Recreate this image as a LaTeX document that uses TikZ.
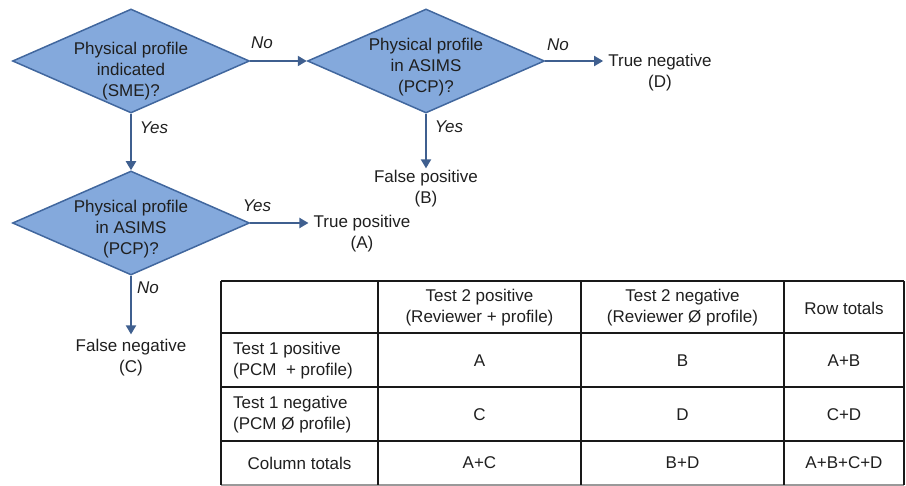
\documentclass[tikz,border=0pt]{standalone}
\usepackage{fontspec}
\setmainfont{Liberation Sans}
\usetikzlibrary{arrows.meta,shapes.geometric}
\definecolor{dfill}{RGB}{132,169,220}
\definecolor{dline}{RGB}{65,103,158}
\definecolor{aline}{RGB}{63,95,143}
\definecolor{tline}{RGB}{25,25,25}
\begin{document}
\begin{tikzpicture}[x=1pt,y=-1pt,
  dia/.style={diamond, draw=dline, fill=dfill, line width=1.5pt,
    minimum width=237pt, minimum height=104pt, inner sep=0pt},
  txt/.style={font=\fontsize{17}{21}\selectfont, align=center, inner sep=2pt, text=black!88},
  ltxt/.style={font=\fontsize{17}{21}\selectfont, align=left, inner sep=0pt, anchor=west, text=black!88},
  lab/.style={font=\fontsize{17}{21}\selectfont\itshape, inner sep=0pt, text=black!88},
  arr/.style={draw=aline, line width=2pt, -{Triangle[length=9pt,width=10pt]}},
  gap/.style={shorten >=3pt},
  tl/.style={draw=tline, line width=1.3pt},
  tlthick/.style={draw=tline, line width=2.4pt}]
\useasboundingbox (0,0) rectangle (906,486);

% decision diamonds
\node[dia] (d1) at (131,61) {};
\node[txt] (d1t) at (131,71) {Physical profile\\indicated\\(SME)?};
\node[dia] (d2) at (426,61) {};
\node[txt] (d2t) at (426,67) {Physical profile\\in ASIMS\\(PCP)?};
\node[dia] (d3) at (131,223) {};
\node[txt] (d3t) at (131,229) {Physical profile\\in ASIMS\\(PCP)?};

% outcomes
\node[txt] (tn) at (660,73) {True negative\\(D)};
\node[txt] (fp) at (426,189) {False positive\\(B)};
\node[txt] (tp) at (362,234) {True positive\\(A)};
\node[txt] (fn) at (131,358) {False negative\\(C)};

% connectors
\draw[arr] (d1.east) -- (d2.west);
\draw[arr,gap] (d2.east) -- (d2.east -| tn.west);
\draw[arr] (d2.south) -- (d2.south |- fp.north);
\draw[arr] (d1.south) -- (d3.north);
\draw[arr,gap] (d3.east) -- (d3.east -| tp.west);
\draw[arr,gap] (d3.south) -- (d3.south |- fn.north);

% connector labels
\node[lab] (l1) at (262,43) {No};
\node[lab] (l2) at (558,45) {No};
\node[lab] (l3) at (154,128) {Yes};
\node[lab] (l4) at (449,127) {Yes};
\node[lab] (l5) at (257,206) {Yes};
\node[lab] (l6) at (148,288) {No};

% table grid
\draw[tl] (221,281) -- (904,281);
\draw[tl] (221,333) -- (904,333);
\draw[tl] (221,387) -- (904,387);
\draw[tlthick] (221,441) -- (904,441);
\draw[draw=black!40, line width=1.3pt] (221,485) -- (904,485);
\foreach \x in {221,378,581,784,904} {\draw[tl] (\x,281) -- (\x,485);}

% table header
\node[txt] (h2) at (479.5,308) {Test 2 positive\\(Reviewer + profile)};
\node[txt] (h3) at (682.5,308) {Test 2 negative\\(Reviewer Ø profile)};
\node[txt] (h4) at (844,308) {Row totals};
% row 1
\node[ltxt] (r1) at (233,361) {Test 1 positive\\(PCM\ \ + profile)};
\node[txt] (ca) at (479.5,361) {A};
\node[txt] (cb) at (682.5,361) {B};
\node[txt] (cab) at (844,361) {A+B};
% row 2
\node[ltxt] (r2) at (233,415) {Test 1 negative\\(PCM Ø profile)};
\node[txt] (cc) at (479.5,415) {C};
\node[txt] (cd) at (682.5,415) {D};
\node[txt] (ccd) at (844,415) {C+D};
% row 3
\node[txt] (r3) at (299.5,463) {Column totals};
\node[txt] (cac) at (479.5,463) {A+C};
\node[txt] (cbd) at (682.5,463) {B+D};
\node[txt] (call) at (844,463) {A+B+C+D};
\end{tikzpicture}
\end{document}
